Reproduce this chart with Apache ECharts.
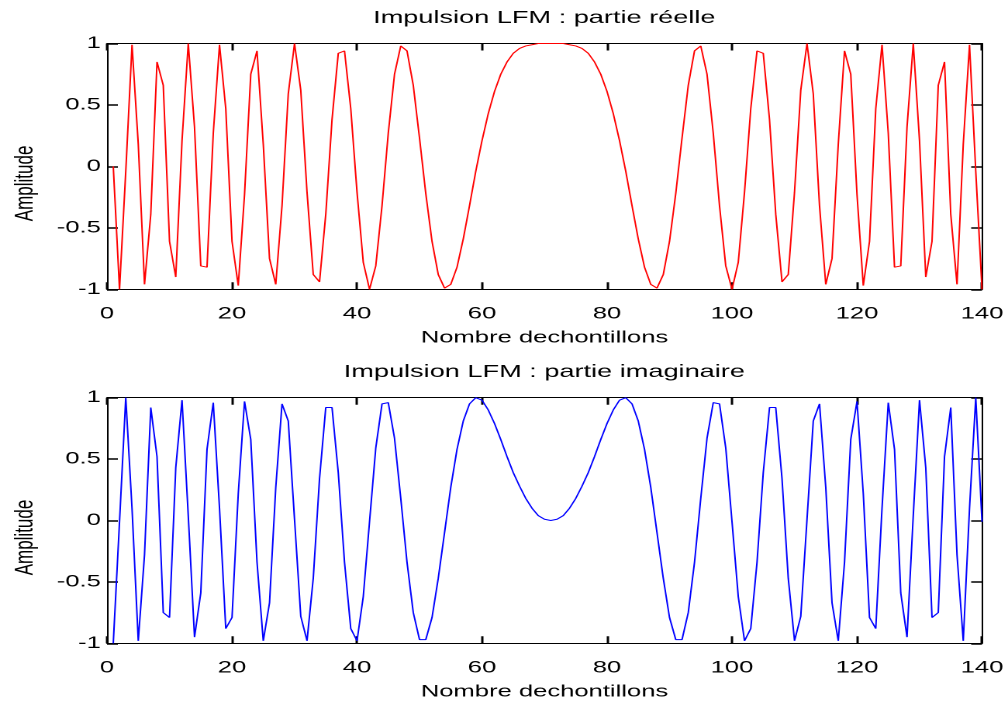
<!DOCTYPE html>
<html>
<head>
<meta charset="utf-8">
<script src="https://cdn.jsdelivr.net/npm/echarts@6/dist/echarts.min.js"></script>
<style>
  html, body { margin: 0; padding: 0; background: #fff; overflow: hidden; }
  #chart { width: 650px; height: 706px; transform: scaleX(1.550769); transform-origin: 0 0; }
</style>
</head>
<body>
<div id="chart"></div>
<script>
// Sample index 1..140
const realPart = [
  0.00, -1.00, -0.04, 0.99, 0.18, -0.96, -0.39, 0.85, 0.66, -0.61,
  -0.90, 0.21, 1.00, 0.32, -0.81, -0.82, 0.27, 0.99, 0.47, -0.61,
  -0.97, -0.23, 0.75, 0.94, 0.18, -0.75, -0.96, -0.32, 0.59, 1.00,
  0.62, -0.21, -0.88, -0.94, -0.39, 0.38, 0.92, 0.94, 0.47, -0.21,
  -0.78, -1.00, -0.81, -0.32, 0.27, 0.75, 0.98, 0.94, 0.66, 0.23,
  -0.22, -0.61, -0.88, -0.99, -0.96, -0.82, -0.59, -0.32, -0.04, 0.21,
  0.43, 0.61, 0.75, 0.85, 0.92, 0.96, 0.98, 0.99, 1.00, 1.00,
  1.00,
  1.00, 1.00, 0.99, 0.98, 0.96, 0.92, 0.85, 0.75, 0.61, 0.43,
  0.21, -0.04, -0.32, -0.59, -0.82, -0.96, -0.99, -0.88, -0.61, -0.22,
  0.23, 0.66, 0.94, 0.98, 0.75, 0.27, -0.32, -0.81, -1.00, -0.78,
  -0.21, 0.47, 0.94, 0.92, 0.38, -0.39, -0.94, -0.88, -0.21, 0.62,
  1.00, 0.59, -0.32, -0.96, -0.75, 0.18, 0.94, 0.75, -0.23, -0.97,
  -0.61, 0.47, 0.99, 0.27, -0.82, -0.81, 0.32, 1.00, 0.21, -0.90,
  -0.61, 0.66, 0.85, -0.39, -0.96, 0.18, 0.99, -0.04, -1.00
];
const imagPart = [
  -1.00, -0.01, 1.00, 0.10, -0.98, -0.28, 0.92, 0.52, -0.75, -0.79,
  0.43, 0.98, 0.04, -0.95, -0.59, 0.58, 0.96, 0.10, -0.88, -0.79,
  0.22, 0.97, 0.66, -0.34, -0.98, -0.67, 0.27, 0.95, 0.81, 0.01,
  -0.78, -0.98, -0.47, 0.34, 0.92, 0.92, 0.39, -0.34, -0.88, -0.98,
  -0.62, -0.01, 0.59, 0.95, 0.96, 0.67, 0.18, -0.34, -0.75, -0.97,
  -0.97, -0.79, -0.47, -0.10, 0.27, 0.58, 0.81, 0.95, 1.00, 0.98,
  0.90, 0.79, 0.66, 0.52, 0.39, 0.28, 0.18, 0.10, 0.04, 0.01,
  0.00,
  0.01, 0.04, 0.10, 0.18, 0.28, 0.39, 0.52, 0.66, 0.79, 0.90,
  0.98, 1.00, 0.95, 0.81, 0.58, 0.27, -0.10, -0.47, -0.79, -0.97,
  -0.97, -0.75, -0.34, 0.18, 0.67, 0.96, 0.95, 0.59, -0.01, -0.62,
  -0.98, -0.88, -0.34, 0.39, 0.92, 0.92, 0.34, -0.47, -0.98, -0.78,
  0.01, 0.81, 0.95, 0.27, -0.67, -0.98, -0.34, 0.66, 0.97, 0.22,
  -0.79, -0.88, 0.10, 0.96, 0.58, -0.59, -0.95, 0.04, 0.98, 0.43,
  -0.79, -0.75, 0.52, 0.92, -0.28, -0.98, 0.10, 1.00, -0.01
];
const titles = ['Impulsion LFM : partie réelle', 'Impulsion LFM : partie imaginaire'];
const xName = 'Nombre dechontillons';
const yName = 'Amplitude';
const xRange = [0, 140];
const xStep = 20;
const yRange = [-1, 1];
const yStep = 0.5;

const FONT = '"Liberation Sans", Arial, sans-serif';
const black = '#000';
const tickStyle = { color: '#000', width: 1.5 };

function pairs(arr) { return arr.map((v, i) => [i + 1, v]); }

function xAx(grid, pos, withLabels) {
  return {
    gridIndex: grid, type: 'value', min: xRange[0], max: xRange[1], interval: xStep,
    position: pos,
    name: withLabels ? xName : '',
    nameLocation: 'middle', nameGap: 40,
    nameTextStyle: { fontSize: 16.5, color: black, fontFamily: FONT },
    axisLine: { show: true, onZero: false, lineStyle: { color: black, width: 1 } },
    axisTick: { show: true, inside: true, length: 7, lineStyle: tickStyle },
    axisLabel: { show: withLabels, fontSize: 16.5, color: black, margin: 16, fontFamily: FONT },
    splitLine: { show: false }
  };
}
function yAx(grid, pos, withLabels) {
  return {
    gridIndex: grid, type: 'value', min: yRange[0], max: yRange[1], interval: yStep,
    position: pos,
    name: withLabels ? yName : '',
    nameLocation: 'middle', nameGap: 44, nameRotate: 90,
    nameTextStyle: { fontSize: 17, color: black, fontFamily: FONT, padding: [0, 34, 0, 0] },
    axisLine: { show: true, onZero: false, lineStyle: { color: black, width: 1 } },
    axisTick: { show: true, inside: true, length: 7, lineStyle: tickStyle },
    axisLabel: { show: withLabels, fontSize: 16.5, color: black, margin: 4, fontFamily: FONT, padding: [6, 0, 0, 0] },
    splitLine: { show: false }
  };
}

const chart = echarts.init(document.getElementById('chart'), null, { renderer: 'canvas', devicePixelRatio: 2 });
chart.setOption({
  animation: false,
  title: [
    { text: titles[0], left: 351, textAlign: 'center', top: 9, padding: 0,
      textStyle: { fontSize: 17.5, fontWeight: 'normal', color: black, fontFamily: FONT } },
    { text: titles[1], left: 351, textAlign: 'center', top: 363, padding: 0,
      textStyle: { fontSize: 17.5, fontWeight: 'normal', color: black, fontFamily: FONT } }
  ],
  grid: [
    { left: 66.6, right: 15.6, top: 43.5, height: 245.8 },
    { left: 66.6, right: 15.6, top: 397.7, height: 245.6 }
  ],
  xAxis: [xAx(0, 'bottom', true), xAx(0, 'top', false), xAx(1, 'bottom', true), xAx(1, 'top', false)],
  yAxis: [yAx(0, 'left', true), yAx(0, 'right', false), yAx(1, 'left', true), yAx(1, 'right', false)],
  series: [
    { name: 'réelle', type: 'line', xAxisIndex: 0, yAxisIndex: 0, data: pairs(realPart),
      showSymbol: false, symbol: 'none', lineStyle: { color: '#ff0000', width: 1 }, itemStyle: { color: '#ff0000' } },
    { name: 'imaginaire', type: 'line', xAxisIndex: 2, yAxisIndex: 2, data: pairs(imagPart),
      showSymbol: false, symbol: 'none', lineStyle: { color: '#0000ff', width: 1 }, itemStyle: { color: '#0000ff' } }
  ]
});
</script>
</body>
</html>
